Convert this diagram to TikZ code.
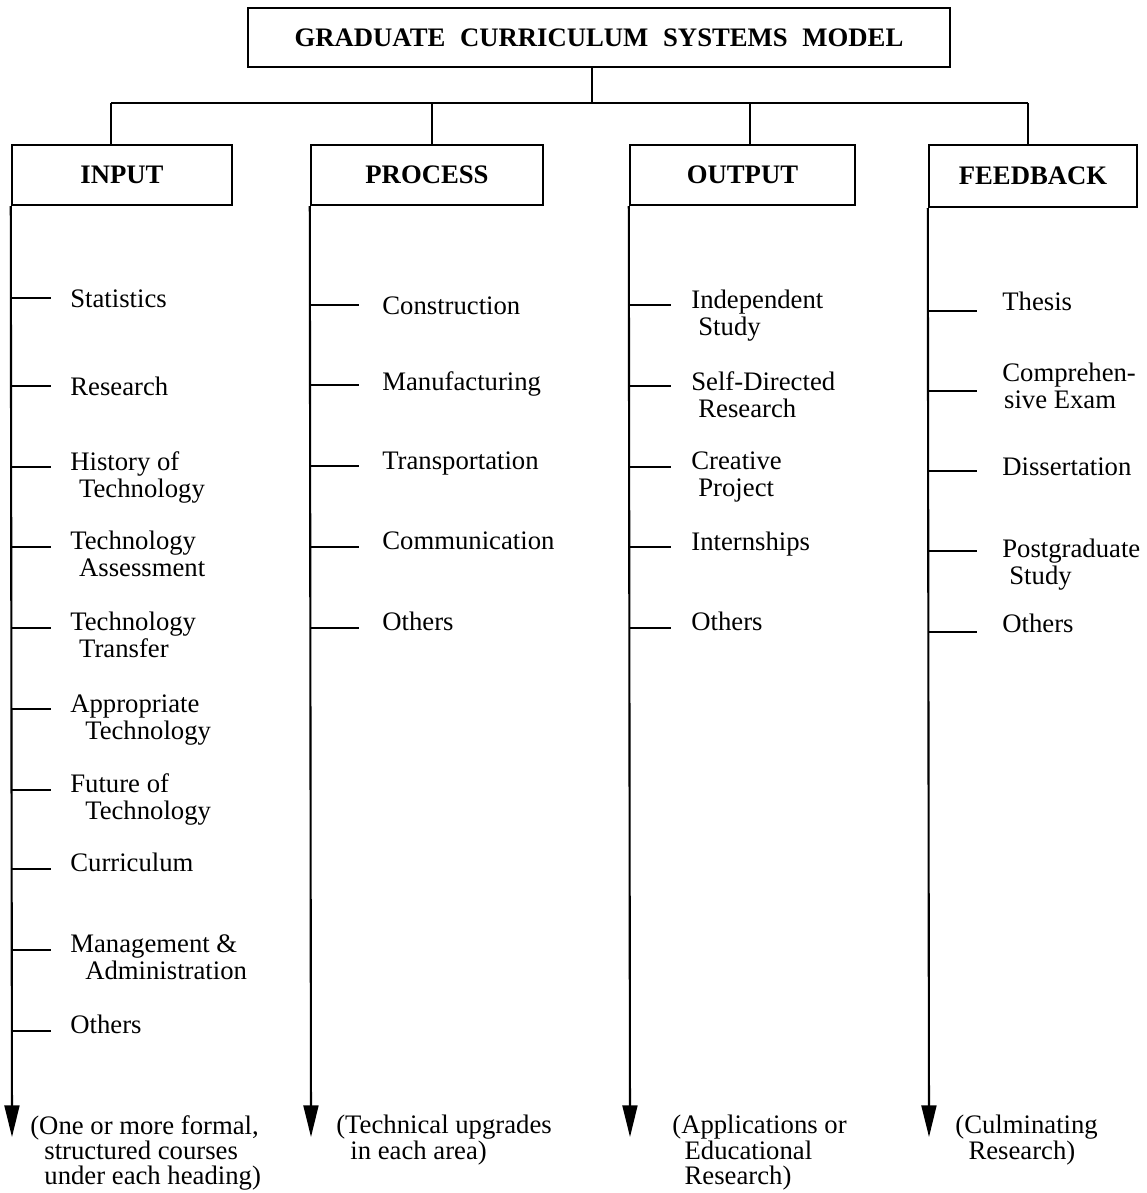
\documentclass[tikz,border=0pt]{standalone}
\usepackage{fontspec}
\setmainfont{Liberation Serif}
\usetikzlibrary{arrows.meta, positioning}

\tikzset{
  box/.style={draw, line width=1.4pt, inner sep=0pt,
              font=\fontsize{15.2}{15.4}\selectfont\bfseries},
  item/.style={anchor=north west, inner sep=0pt, align=left,
               font=\fontsize{15.2}{15.4}\selectfont},
  note/.style={item, font=\fontsize{15.2}{14.4}\selectfont},
  spine/.style={line width=1.2pt, -{Triangle[width=8.5pt,length=18pt]}},
  tick/.style={line width=1.2pt},
  bus/.style={line width=1.4pt}
}

\begin{document}
\begin{tikzpicture}[x=0.02cm, y=-0.02cm]
  \useasboundingbox (0,0) rectangle (1146,1193);

  \node[box, minimum width=14.04cm, minimum height=1.18cm] (title) at (599,37.5)
    {GRADUATE\hspace{0.55em}CURRICULUM\hspace{0.55em}SYSTEMS\hspace{0.55em}MODEL};

  \node[box, minimum width=4.4cm, minimum height=1.2cm] (in) at (122,175) {INPUT};
  \node[box, minimum width=4.64cm, minimum height=1.2cm] (pr) at (427,175) {PROCESS};
  \node[box, minimum width=4.5cm, minimum height=1.2cm] (out) at (742.5,175) {OUTPUT};
  \node[box, minimum width=4.16cm, minimum height=1.24cm] (fb) at (1033,176) {FEEDBACK};

  % tree from the title to the four headings
  \coordinate (hub) at (592,103);
  \draw[bus] (title.south -| hub) -- (hub);
  \draw[bus] ([xshift=-11*0.02cm]in.north |- hub) -- ([xshift=-5*0.02cm]fb.north |- hub);
  \foreach \h/\dx in {in/-11,pr/5,out/7.5,fb/-5}
    \draw[bus] ([xshift=\dx*0.02cm]\h.north |- hub) -- ([xshift=\dx*0.02cm]\h.north);

  % spines
  \coordinate (in-end) at (12,1137);
  \coordinate (pr-end) at (311,1137);
  \coordinate (out-end) at (630,1137);
  \coordinate (fb-end) at (929,1137);
  \foreach \h in {in,pr,out,fb}
    \draw[spine] (\h.south west) -- (\h-end);

  % INPUT
  \foreach \ty/\ly/\txt [count=\i] in {
      298/298/Statistics,
      386/386/Research,
      467/460/{History of\\\hspace*{5pt}Technology},
      547/540/{Technology\\\hspace*{5pt}Assessment},
      628/621/{Technology\\\hspace*{5pt}Transfer},
      709/703/{Appropriate\\\hspace*{8.5pt}Technology},
      790/782/{Future of\\\hspace*{8.5pt}Technology},
      869/862/Curriculum,
      950/943/{Management \&\\\hspace*{8.5pt}Administration},
      1031/1024/Others} {
    \draw[tick] (in.south west |- 0,\ty) -- ++(40,0);
    \node[item] (in-\i) at (70,\ly-9) {\txt};
  }

  % PROCESS
  \foreach \ty/\ly/\txt [count=\i] in {
      305/305/Construction,
      385/380/Manufacturing,
      466/460/Transportation,
      547/540/Communication,
      628/621/Others} {
    \draw[tick] (pr.south west |- 0,\ty) -- ++(49,0);
    \node[item] (pr-\i) at (382,\ly-9) {\txt};
  }

  % OUTPUT
  \foreach \ty/\ly/\txt [count=\i] in {
      305/299/{Independent\\\hspace*{4pt}Study},
      386/380/{Self-Directed\\\hspace*{4pt}Research},
      467/460/{Creative\\\hspace*{4pt}Project},
      547/541/Internships,
      628/621/Others} {
    \draw[tick] (out.south west |- 0,\ty) -- ++(42,0);
    \node[item] (out-\i) at (691,\ly-9) {\txt};
  }

  % FEEDBACK
  \foreach \ty/\ly/\txt [count=\i] in {
      311/301/Thesis,
      391/372/{Comprehen-\\\hspace*{1pt}sive Exam},
      471/466/Dissertation,
      551/548/{Postgraduate\\\hspace*{4pt}Study},
      632/623/Others} {
    \draw[tick] (fb.south west |- 0,\ty) -- ++(49,0);
    \node[item] (fb-\i) at (1002,\ly-9) {\txt};
  }

  % notes under the arrows
  \node[note] (in-note) at (30,1115)
    {(One or more formal,\\\hspace*{8pt}structured courses\\\hspace*{8pt}under each heading)};
  \node[note] (pr-note) at (336,1115)
    {(Technical upgrades\\\hspace*{8pt}in each area)};
  \node[note] (out-note) at (672,1115)
    {(Applications or\\\hspace*{7pt}Educational\\\hspace*{7pt}Research)};
  \node[note] (fb-note) at (955,1115)
    {(Culminating\\\hspace*{7.5pt}Research)};
\end{tikzpicture}
\end{document}
